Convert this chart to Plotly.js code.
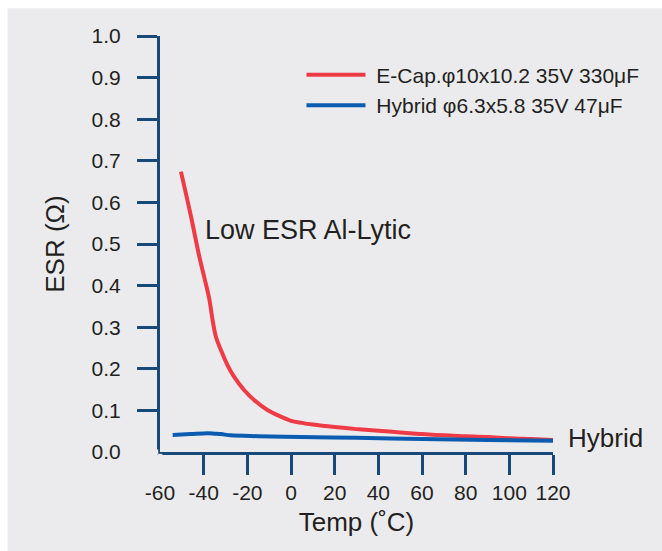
<!DOCTYPE html>
<html>
<head>
<meta charset="utf-8">
<script src="https://cdn.plot.ly/plotly-3.0.1.min.js"></script>
<style>
html,body{margin:0;padding:0;background:#ffffff;}
#chart{width:662px;height:551px;}
</style>
</head>
<body>
<div id="chart"></div>
<script>
// ---- data ----
var ecapName = "\u00a0E-Cap.\u03c610x10.2 35V 330\u03bcF";
var hybridName = "\u00a0Hybrid \u03c66.3x5.8 35V 47\u03bcF";

var ecapTemp = [-50.4, -45.8, -42, -39.5, -37.5, -35.9, -34.4, -32.1, -29.1, -26.1, -21.5, -16.9, -10.8, -4.7, 0, 5, 10, 20, 30, 40, 50, 60, 70, 80, 90, 100, 110, 120];
var ecapESR  = [0.674, 0.566, 0.470, 0.415, 0.370, 0.317, 0.277, 0.245, 0.209, 0.181, 0.149, 0.125, 0.101, 0.085, 0.075, 0.070, 0.066, 0.060, 0.055, 0.051, 0.047, 0.043, 0.040, 0.038, 0.036, 0.033, 0.031, 0.029];

var hybridTemp = [-54.2, -46, -38.2, -35, -32, -27.6, -15, 4.4, 30, 60, 90, 120];
var hybridESR  = [0.041, 0.043, 0.045, 0.044, 0.043, 0.040, 0.038, 0.036, 0.034, 0.031, 0.029, 0.027];

var xTicks = [-60, -40, -20, 0, 20, 40, 60, 80, 100, 120];
var xTickText = ["-60", "-40", "-20", "0", "20", "40", "60", "80", "100", "120"];
var yTicks = [0.0, 0.1, 0.2, 0.3, 0.4, 0.5, 0.6, 0.7, 0.8, 0.9, 1.0];
var yTickText = ["0.0","0.1","0.2","0.3","0.4","0.5","0.6","0.7","0.8","0.9","1.0"];

var labelLowESR = "Low ESR Al-Lytic";
var labelHybrid = "Hybrid";
var xTitle = "Temp (\u02daC)";
var yTitle = "ESR (\u03a9)";

// ---- styles ----
var FONT = "Liberation Sans, Arial, sans-serif";
var TXT = "#231f20";
var AX = "#174a78";
var BG = "#ebebee";

var traces = [
  {x: ecapTemp, y: ecapESR, name: ecapName, mode: "lines", type: "scatter",
   line: {color: "#ef3b45", width: 4, shape: "spline", smoothing: 1.0},
   legendgroup: "a", hoverinfo: "skip"},
  {x: hybridTemp, y: hybridESR, name: hybridName, mode: "lines", type: "scatter",
   line: {color: "#0b5cb0", width: 4, shape: "spline", smoothing: 0.9},
   legendgroup: "b", hoverinfo: "skip"}
];

var layout = {
  width: 662, height: 551,
  margin: {l: 160, r: 109, t: 36, b: 99, pad: 0},
  paper_bgcolor: BG,
  plot_bgcolor: BG,
  font: {family: FONT, color: TXT, size: 21},
  showlegend: true,
  legend: {
    x: 0.36, y: 0.955, xanchor: "left", yanchor: "top",
    bgcolor: "rgba(0,0,0,0)", borderwidth: 0,
    font: {family: FONT, size: 21, color: TXT},
    itemwidth: 59, traceorder: "grouped", tracegroupgap: 0
  },
  xaxis: {
    range: [-60, 120], tickmode: "array", tickvals: xTicks, ticktext: xTickText,
    ticks: "outside", ticklen: 20, tickwidth: 3, tickcolor: AX,
    showline: true, linecolor: AX, linewidth: 3,
    showgrid: false, zeroline: false,
    ticklabelstandoff: 0,
    tickfont: {family: FONT, size: 21, color: TXT},
    title: {text: xTitle, font: {family: FONT, size: 26, color: TXT}, standoff: 10}
  },
  yaxis: {
    range: [0, 1], tickmode: "array", tickvals: yTicks, ticktext: yTickText,
    ticks: "outside", ticklen: 20, tickwidth: 3, tickcolor: AX,
    showline: true, linecolor: AX, linewidth: 3,
    showgrid: false, zeroline: false,
    ticklabelstandoff: 12,
    tickfont: {family: FONT, size: 21, color: TXT},
    title: {text: yTitle, font: {family: FONT, size: 26, color: TXT}, standoff: 20}
  },
  annotations: [
    {x: -40.4, y: 0.534, xref: "x", yref: "y", text: labelLowESR, showarrow: false,
     xanchor: "left", yanchor: "middle", font: {family: FONT, size: 27, color: TXT}},
    {x: 120, y: 0.034, xref: "x", yref: "y", xshift: 13, text: labelHybrid, showarrow: false,
     xanchor: "left", yanchor: "middle", font: {family: FONT, size: 26, color: TXT}}
  ],
  shapes: [
    // white frame strips outside the grey panel (top and left)
    {type: "rect", xref: "paper", yref: "paper", x0: -0.5, x1: 1.5, y0: 1.067, y1: 1.2,
     fillcolor: "#ffffff", line: {width: 0}, layer: "below"},
    {type: "rect", xref: "paper", yref: "paper", x0: -0.5, x1: -0.388, y0: -0.5, y1: 1.2,
     fillcolor: "#ffffff", line: {width: 0}, layer: "below"},
    // hide the tick stubs at the origin
    {type: "rect", xref: "paper", yref: "paper", x0: -0.06, x1: -0.0045, y0: -0.006, y1: 0.006,
     fillcolor: BG, line: {width: 0}, layer: "above"},
    {type: "rect", xref: "paper", yref: "paper", x0: -0.006, x1: 0.006, y0: -0.06, y1: -0.0045,
     fillcolor: BG, line: {width: 0}, layer: "above"}
  ]
};

Plotly.newPlot("chart", traces, layout, {displayModeBar: false, staticPlot: true});
</script>
</body>
</html>
